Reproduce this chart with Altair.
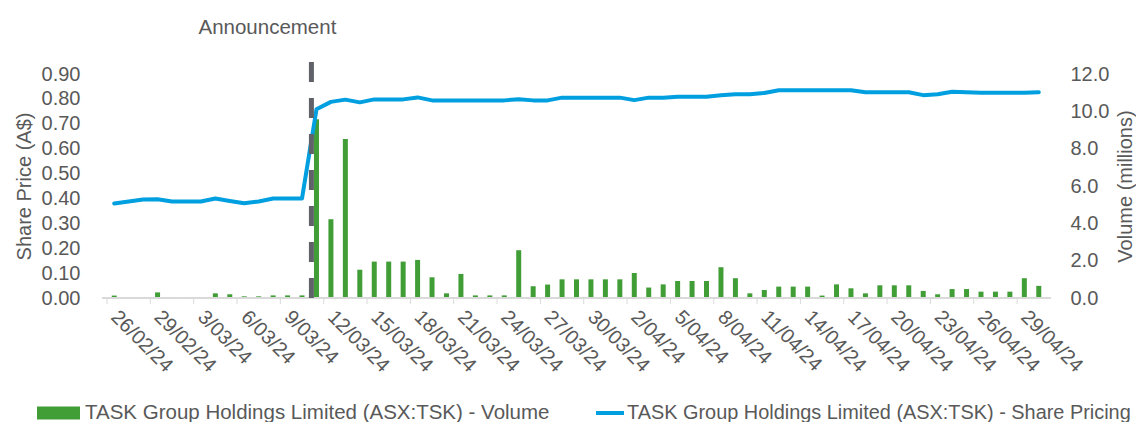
import altair as alt
import pandas as pd

# ---------------- data ----------------
dates = pd.date_range("2024-02-26", "2024-04-30", freq="D")  # 65 calendar days

volume_m = [0.13, 0.05, 0.05, 0.30, 0.04, 0.04, 0.04, 0.25, 0.20, 0.09,
            0.09, 0.14, 0.14, 0.14, 9.58, 4.22, 8.52, 1.52, 1.95, 1.95,
            1.95, 2.04, 1.11, 0.25, 1.29, 0.14, 0.14, 0.14, 2.56, 0.63,
            0.72, 1.00, 1.00, 1.00, 1.00, 1.00, 1.34, 0.56, 0.73, 0.91,
            0.91, 0.91, 1.65, 1.06, 0.25, 0.43, 0.61, 0.61, 0.61, 0.13,
            0.73, 0.52, 0.25, 0.68, 0.68, 0.68, 0.38, 0.20, 0.48, 0.48,
            0.34, 0.34, 0.34, 1.06, 0.65]

price = [0.380, 0.388, 0.396, 0.397, 0.388, 0.388, 0.388, 0.400, 0.390, 0.381,
         0.388, 0.400, 0.400, 0.400, 0.758, 0.788, 0.797, 0.786, 0.798, 0.798,
         0.798, 0.806, 0.794, 0.794, 0.794, 0.794, 0.794, 0.794, 0.799, 0.794,
         0.794, 0.805, 0.805, 0.805, 0.805, 0.805, 0.795, 0.805, 0.805, 0.809,
         0.809, 0.809, 0.815, 0.819, 0.819, 0.824, 0.835, 0.835, 0.835, 0.835,
         0.835, 0.835, 0.827, 0.827, 0.827, 0.827, 0.815, 0.819, 0.829, 0.827,
         0.825, 0.825, 0.825, 0.825, 0.827]

tick_labels = ["26/02/24", "29/02/24", "3/03/24", "6/03/24", "9/03/24", "12/03/24",
               "15/03/24", "18/03/24", "21/03/24", "24/03/24", "27/03/24", "30/03/24",
               "2/04/24", "5/04/24", "8/04/24", "11/04/24", "14/04/24", "17/04/24",
               "20/04/24", "23/04/24", "26/04/24", "29/04/24"]

announcement_pos = 13.65
announcement_label = "Announcement"

vol_name = "TASK Group Holdings Limited (ASX:TSK) - Volume"
price_name = "TASK Group Holdings Limited (ASX:TSK) - Share Pricing"

price_ticks = [round(k * 0.1, 2) for k in range(10)]
volume_ticks = [float(k) for k in range(0, 13, 2)]

# ---------------- styles ----------------
GREEN = "#419E37"
BLUE = "#009FE0"
DASH = "#5F6369"
TEXT = "#595959"
AXIS = "#D9D9D9"
FONT = "Liberation Sans"
FS = 20
FS_BIG = 20.5

n = len(dates)
df = pd.DataFrame({
    "i": list(range(n)),
    "volume": volume_m,
    "price": price,
    "vs": [vol_name] * n,
    "ps": [price_name] * n,
})
label_idx = list(range(0, n - 1, 3))
tick_df = pd.DataFrame({"c": label_idx, "b": [v - 0.5 for v in label_idx], "lab": tick_labels})
ann = pd.DataFrame({"pos": [announcement_pos], "label": [announcement_label]})

xscale = alt.Scale(domain=[-0.5, n - 0.5], nice=False, zero=False)

bars = alt.Chart(df).mark_bar(size=5).encode(
    x=alt.X("i:Q", scale=xscale, axis=None),
    y=alt.Y("volume:Q", scale=alt.Scale(domain=[0, 12], nice=False), axis=alt.Axis(
        orient="right", values=volume_ticks, format=".1f", title="Volume (millions)",
        grid=False, domain=False, ticks=False, labelPadding=19, labelFontSize=FS,
        labelColor=TEXT, labelFont=FONT, titleFontSize=FS, titleColor=TEXT,
        titleFont=FONT, titleFontWeight="normal", titlePadding=7,
        titleAngle=270, titleBaseline="top",
        labelOverlap=False, labelFlush=False)),
    fill=alt.Fill("vs:N", scale=alt.Scale(domain=[vol_name], range=[GREEN]),
                  legend=alt.Legend(orient="none", legendX=-65, legendY=317.5, title=None,
                                    symbolType="M-1,-0.3H1V0.3H-1Z", symbolSize=1849,
                                    symbolStrokeWidth=0, labelFontSize=FS_BIG, labelColor=TEXT,
                                    labelFont=FONT, labelLimit=0, labelOffset=5, padding=0)),
)

line = alt.Chart(df).mark_line(strokeWidth=4, strokeJoin="round", strokeCap="round").encode(
    x=alt.X("i:Q", scale=xscale, axis=None),
    y=alt.Y("price:Q", scale=alt.Scale(domain=[0, 0.9], nice=False), axis=alt.Axis(
        orient="left", values=price_ticks, format=".2f", title="Share Price (A$)",
        grid=False, domain=False, ticks=False, labelPadding=22, labelFontSize=FS,
        labelColor=TEXT, labelFont=FONT, titleFontSize=FS, titleColor=TEXT,
        titleFont=FONT, titleFontWeight="normal", titlePadding=7,
        labelOverlap=False, labelFlush=False)),
    stroke=alt.Stroke("ps:N", scale=alt.Scale(domain=[price_name], range=[BLUE]),
                      legend=alt.Legend(orient="none", legendX=492, legendY=323, title=None,
                                        symbolType="stroke", symbolSize=784,
                                        symbolStrokeWidth=4, labelFontSize=19.9,
                                        labelColor=TEXT, labelFont=FONT, labelLimit=0,
                                        labelOffset=1, padding=0)),
)

# x-axis baseline, boundary ticks and rotated date labels
base = alt.Chart(df).mark_rule(color=AXIS, strokeWidth=1).encode(
    x=alt.value(0), x2=alt.value(949), y=alt.value(224)
)
ticks = alt.Chart(tick_df).mark_rule(color=AXIS, strokeWidth=1).encode(
    x=alt.X("b:Q", scale=xscale, axis=None),
    y=alt.value(224),
    y2=alt.value(230),
)
xlabels = alt.Chart(tick_df).mark_text(
    fontSize=FS, font=FONT, color=TEXT, angle=45, align="left", baseline="middle",
).encode(
    x=alt.X("c:Q", scale=xscale, axis=None),
    y=alt.value(240),
    text="lab:N",
)

rule = alt.Chart(ann).mark_rule(color=DASH, strokeWidth=5, strokeDash=[20, 16]).encode(
    x=alt.X("pos:Q", scale=xscale, axis=None),
    y=alt.value(-12),
    y2=alt.value(224),
)

text = alt.Chart(ann).mark_text(fontSize=FS_BIG, font=FONT, color=TEXT, dx=-44,
                                baseline="middle", align="center").encode(
    x=alt.X("pos:Q", scale=xscale, axis=None),
    y=alt.value(-46),
    text="label:N",
)

chart = alt.layer(bars, base, ticks, xlabels, line, rule, text).resolve_scale(
    y="independent", fill="independent", stroke="independent"
).properties(
    width=949, height=224,
    autosize=alt.AutoSizeParams(type="none"),
    padding={"left": 94, "top": 66, "right": 85, "bottom": 124},
).configure(font=FONT, background="white").configure_view(stroke=None)

chart.save("out.html", embed_options={"renderer": "svg", "actions": False})
